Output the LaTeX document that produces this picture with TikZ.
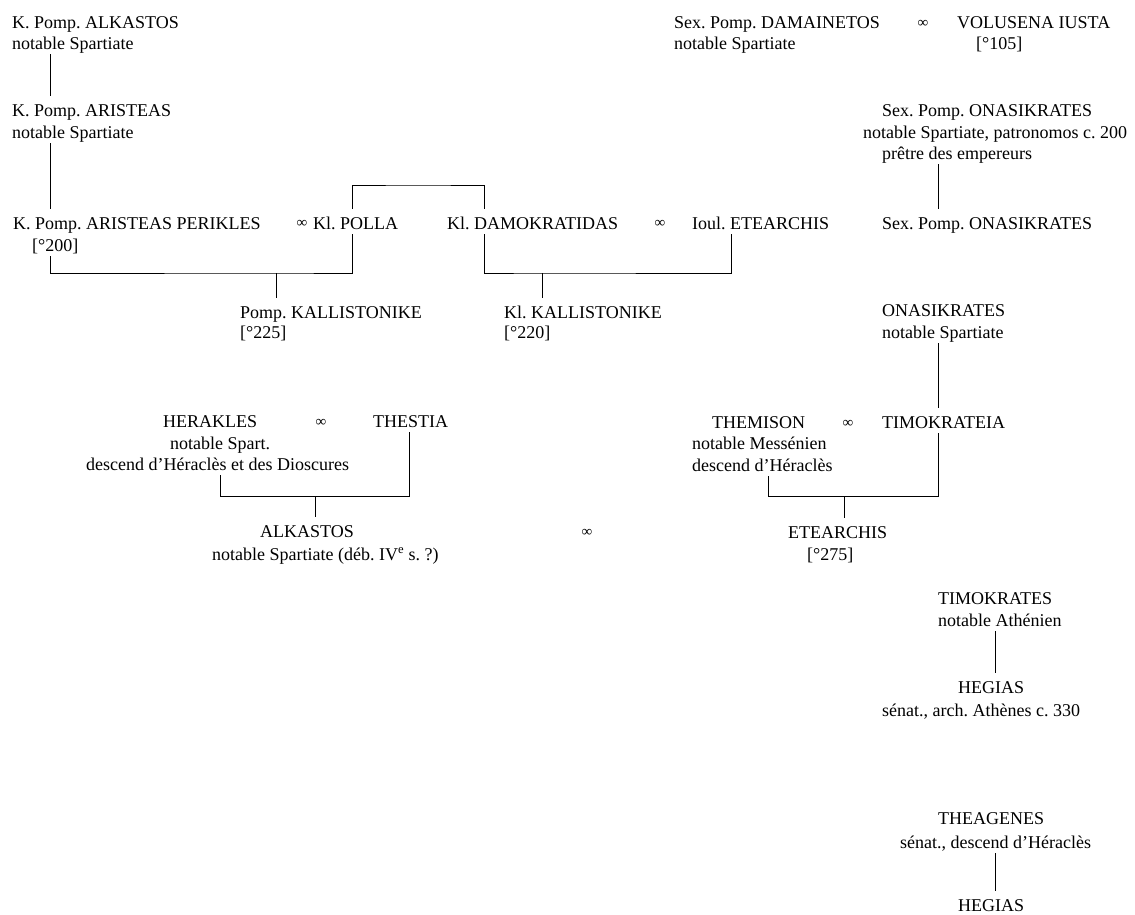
\documentclass[tikz,border=0pt]{standalone}
\usepackage{fontspec}
\setmainfont{Liberation Serif}
\usetikzlibrary{positioning}
\frenchspacing

\tikzset{
  person/.style={anchor=base west, inner sep=0pt, font=\fontsize{18}{22}\selectfont, text height=13pt, text depth=5pt},
  marr/.style={inner sep=0pt, font=\fontsize{15}{15}\selectfont},
  link/.style={line width=0.6pt, shorten >=7pt},
  bar/.style={line width=1pt}
}

\begin{document}
\begin{tikzpicture}[x=1pt, y=-1pt]
    \useasboundingbox (0,0) rectangle (1135,914);

    % Draw left line
    \node[person] (alkA) at (12,28) {K. Pomp. ALKASTOS};
    \node[person] (alkB) at (12,49) {notable Spartiate};
    \node[person] (ariA) at (12,116) {K. Pomp. ARISTEAS};
    \node[person] (ariB) at (12,138) {notable Spartiate};
    \node[person] (perA) at (13,229) {K. Pomp. ARISTEAS PERIKLES};
    \node[person] (perB) at (32,251) {[°200]};
    \node[marr] (inf1) at (302,224) {∞};
    \node[person] (polla) at (313,229) {Kl. POLLA};
    \node[person] (damok) at (447,229) {Kl. DAMOKRATIDAS};
    \node[marr] (inf2) at (660,224) {∞};
    \node[person] (ioul) at (692,229) {Ioul. ETEARCHIS};
    \node[person] (kalA) at (240,318) {Pomp. KALLISTONIKE};
    \node[person] (kalB) at (240,338) {[°225]};
    \node[person] (klkA) at (504,318) {Kl. KALLISTONIKE};
    \node[person] (klkB) at (504,338) {[°220]};

    % Draw right line
    \node[person] (damA) at (674,28) {Sex. Pomp. DAMAINETOS};
    \node[person] (damB) at (674,49) {notable Spartiate};
    \node[marr] (inf3) at (923,24) {∞};
    \node[person] (volA) at (957,28) {VOLUSENA IUSTA};
    \node[person] (volB) at (976,49) {[°105]};
    \node[person] (sexA) at (882,116) {Sex. Pomp. ONASIKRATES};
    \node[person] (sexB) at (863,138) {notable Spartiate, patronomos c. 200};
    \node[person] (sexC) at (882,159) {prêtre des empereurs};
    \node[person] (sexD) at (882,229) {Sex. Pomp. ONASIKRATES};
    \node[person] (onaA) at (882,316) {ONASIKRATES};
    \node[person] (onaB) at (882,338) {notable Spartiate};

    % Draw middle couples
    \node[person] (herA) at (163,427) {HERAKLES};
    \node[person] (herB) at (170,449) {notable Spart.};
    \node[person] (herC) at (86,470) {descend d’Héraclès et des Dioscures};
    \node[marr] (inf4) at (321,423) {∞};
    \node[person] (thestia) at (373,427) {THESTIA};
    \node[person] (alksA) at (260,537) {ALKASTOS};
    \node[person] (alksB) at (212,560) {notable Spartiate (déb. IV\textsuperscript{e} s. ?)};
    \node[marr] (inf5) at (587,533) {∞};
    \node[person] (themA) at (712,428) {THEMISON};
    \node[person] (themB) at (692,449) {notable Messénien};
    \node[person] (themC) at (692,471) {descend d’Héraclès};
    \node[marr] (inf6) at (848,424) {∞};
    \node[person] (timA) at (882,428) {TIMOKRATEIA};
    \node[person] (eteA) at (788,538) {ETEARCHIS};
    \node[person] (eteB) at (807,560) {[°275]};

    % Draw Athenian line
    \node[person] (timoA) at (938,604) {TIMOKRATES};
    \node[person] (timoB) at (938,626) {notable Athénien};
    \node[person] (hegA) at (958,693) {HEGIAS};
    \node[person] (hegB) at (882,716) {sénat., arch. Athènes c. 330};
    \node[person] (theA) at (938,824) {THEAGENES};
    \node[person] (theB) at (900,848) {sénat., descend d’Héraclès};
    \node[person, text depth=0pt] (hegC) at (958,911) {HEGIAS};

    % Parent to child
    \draw[link] (alkB.south -| 50,0) -- (ariA.north -| 50,0);
    \draw[link] (ariB.south -| 50,0) -- (perA.north -| 50,0);
    \draw[link] (sexC.south -| 938,0) -- (sexD.north -| 938,0);
    \draw[link] (onaB.south -| 938,0) -- (timA.north -| 938,0);
    \draw[link] (timoB.south -| 995,0) -- (hegA.north -| 995,0);
    \draw[link] (theB.south -| 995,0) -- (hegC.north -| 995,0);

    % Brother and sister
    \coordinate (sib) at (418,185);
    \draw[link, shorten <=7pt] (polla.north -| 352,0) |- (sib) -| (damok.north -| 484,0);

    % Marriages
    \coordinate (bar1) at (276,273);
    \coordinate (bar2) at (542,273);
    \coordinate (bar3) at (315,496);
    \coordinate (bar4) at (844,496);
    \draw[bar] (perB.south -| 50,0) |- (bar1) -| (polla.south -| 352,0);
    \draw[bar] (damok.south -| 484,0) |- (bar2) -| (ioul.south -| 731,0);
    \draw[bar] (herC.south -| 220,0) |- (bar3) -| (thestia.south -| 409,0);
    \draw[bar] (themC.south -| 768,0) |- (bar4) -| (timA.south -| 938,0);
    \draw[link] (bar1) -- (kalA.north -| bar1);
    \draw[link] (bar2) -- (klkA.north -| bar2);
    \draw[link] (bar3) -- (alksA.north -| bar3);
    \draw[link] (bar4) -- (eteA.north -| bar4);

\end{tikzpicture}
\end{document}
